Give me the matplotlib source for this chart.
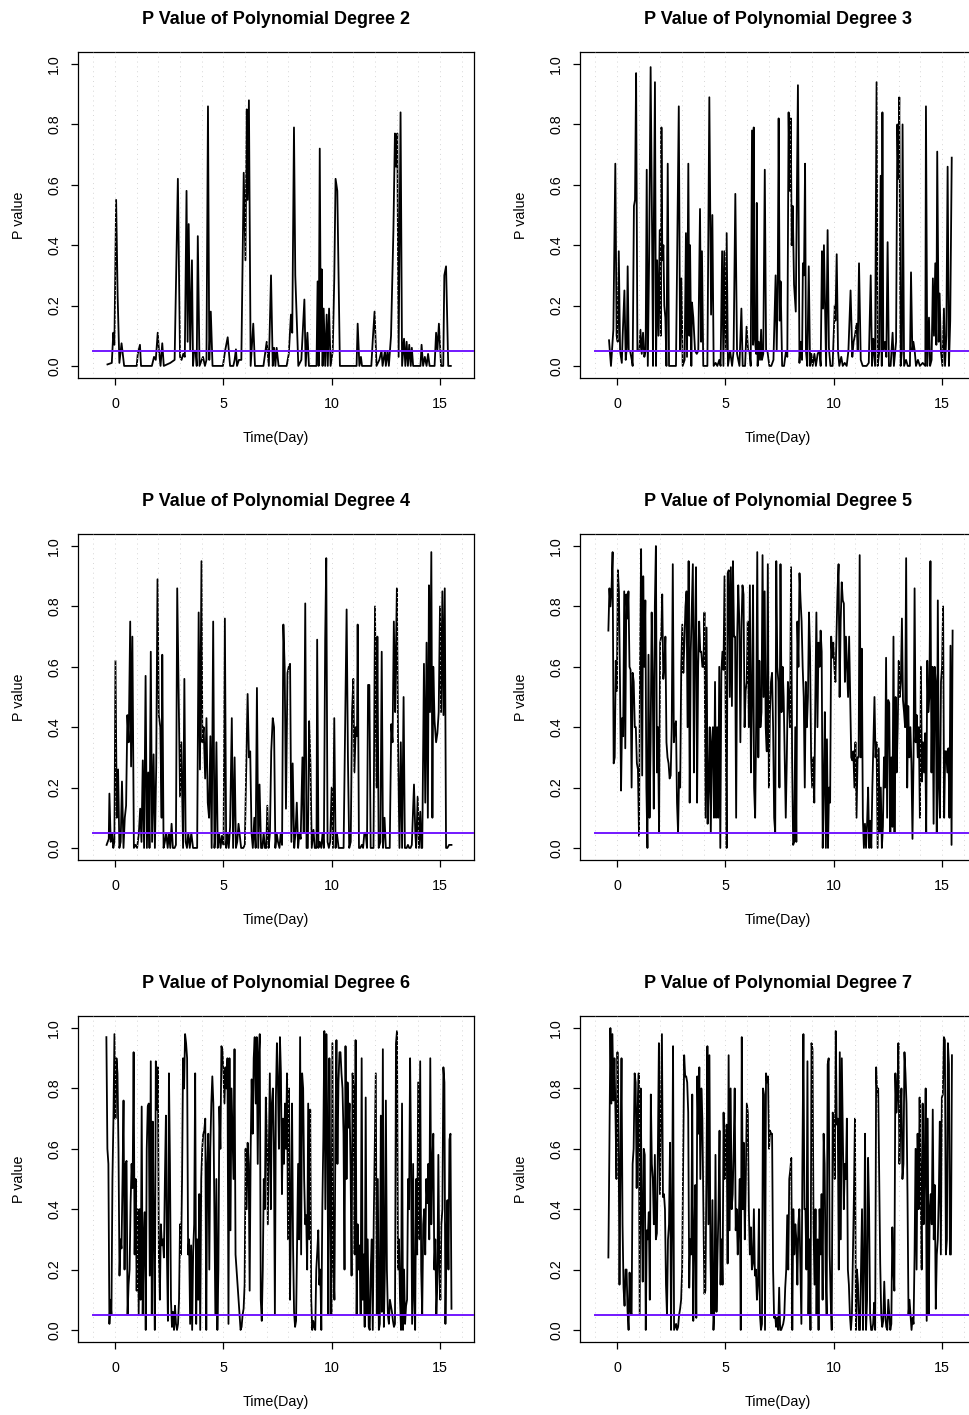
import numpy as np
import matplotlib
matplotlib.use('Agg')
import matplotlib.pyplot as plt

plt.rcParams['font.family'] = ['Liberation Sans', 'DejaVu Sans']

# degree 2 (irregular readings: day, p value)
day_deg2 = [-0.35, -0.15, -0.08, -0.03, 0.05, 0.12, 0.2, 0.3, 0.42, 1.0,
            1.05, 1.15, 1.2, 1.7, 1.8, 1.88, 1.97, 2.03, 2.1, 2.18,
            2.25, 2.55, 2.75, 2.9, 3.0, 3.07, 3.15, 3.22, 3.3, 3.35,
            3.4, 3.47, 3.55, 3.6, 3.65, 3.72, 3.77, 3.82, 3.9, 4.0,
            4.06, 4.15, 4.22, 4.29, 4.35, 4.42, 4.5, 4.98, 5.08, 5.2,
            5.31, 5.46, 5.52, 5.58, 5.63, 5.72, 5.83, 5.94, 6.02, 6.08,
            6.12, 6.18, 6.26, 6.38, 6.46, 6.85, 7.0, 7.1, 7.2, 7.28,
            7.34, 7.4, 7.46, 7.55, 7.92, 8.02, 8.12, 8.18, 8.26, 8.32,
            8.46, 8.6, 8.74, 8.8, 8.88, 8.95, 9.3, 9.35, 9.4, 9.45,
            9.5, 9.54, 9.58, 9.63, 9.7, 9.77, 9.82, 9.88, 9.95, 10.05,
            10.12, 10.18, 10.26, 10.38, 11.15, 11.2, 11.28, 11.35, 11.4, 11.83,
            11.9, 11.98, 12.07, 12.2, 12.3, 12.35, 12.46, 12.5, 12.58, 12.64,
            12.74, 12.85, 12.92, 12.97, 13.03, 13.09, 13.18, 13.25, 13.34, 13.4,
            13.46, 13.52, 13.58, 13.65, 13.7, 13.76, 14.1, 14.15, 14.22, 14.3,
            14.38, 14.45, 14.52, 14.75, 14.82, 14.88, 14.95, 15.05, 15.15, 15.2,
            15.28, 15.38, 15.5]
pval_deg2 = [0.005, 0.01, 0.11, 0.07, 0.55, 0.23, 0.01, 0.075, 0.0, 0.0,
             0.04, 0.07, 0.0, 0.0, 0.03, 0.02, 0.11, 0.05, 0.0, 0.075,
             0.0, 0.01, 0.02, 0.62, 0.03, 0.02, 0.04, 0.03, 0.58, 0.08,
             0.47, 0.05, 0.35, 0.0, 0.05, 0.05, 0.0, 0.43, 0.0, 0.02,
             0.03, 0.0, 0.02, 0.86, 0.02, 0.18, 0.0, 0.0, 0.05, 0.095,
             0.0, 0.0, 0.02, 0.055, 0.0, 0.02, 0.02, 0.64, 0.35, 0.85,
             0.55, 0.88, 0.0, 0.14, 0.0, 0.0, 0.08, 0.0, 0.3, 0.0,
             0.06, 0.0, 0.06, 0.0, 0.0, 0.04, 0.17, 0.11, 0.79, 0.3,
             0.0, 0.02, 0.22, 0.0, 0.11, 0.0, 0.0, 0.28, 0.0, 0.72,
             0.05, 0.32, 0.0, 0.19, 0.0, 0.17, 0.0, 0.19, 0.0, 0.05,
             0.29, 0.62, 0.58, 0.0, 0.0, 0.14, 0.0, 0.03, 0.0, 0.0,
             0.09, 0.18, 0.0, 0.02, 0.05, 0.0, 0.05, 0.0, 0.05, 0.0,
             0.1, 0.45, 0.77, 0.66, 0.77, 0.03, 0.84, 0.0, 0.09, 0.0,
             0.08, 0.0, 0.07, 0.0, 0.06, 0.0, 0.0, 0.07, 0.0, 0.03,
             0.0, 0.04, 0.0, 0.0, 0.11, 0.05, 0.14, 0.0, 0.0, 0.3,
             0.33, 0.0, 0.0]

# degree 3
day_deg3 = [-0.37, -0.28, -0.17, -0.08, -0.02, 0.03, 0.08, 0.14, 0.22, 0.26,
            0.34, 0.4, 0.45, 0.49, 0.54, 0.6, 0.68, 0.72, 0.78, 0.83,
            0.88, 0.94, 1.03, 1.08, 1.14, 1.2, 1.26, 1.32, 1.37, 1.42,
            1.48, 1.55, 1.62, 1.66, 1.69, 1.75, 1.8, 1.85, 1.91, 1.97,
            2.02, 2.05, 2.09, 2.14, 2.18, 2.23, 2.28, 2.34, 2.4, 2.52,
            2.6, 2.72, 2.85, 2.91, 2.97, 3.03, 3.12, 3.18, 3.23, 3.29,
            3.34, 3.37, 3.43, 3.46, 3.52, 3.6, 3.68, 3.75, 3.83, 3.88,
            3.92, 3.98, 4.08, 4.17, 4.26, 4.34, 4.4, 4.46, 4.55, 4.63,
            4.72, 4.78, 4.85, 4.91, 4.95, 5.02, 5.06, 5.12, 5.22, 5.31,
            5.38, 5.46, 5.54, 5.65, 5.74, 5.8, 5.91, 5.98, 6.05, 6.11,
            6.17, 6.23, 6.28, 6.31, 6.35, 6.42, 6.45, 6.49, 6.54, 6.6,
            6.65, 6.69, 6.75, 6.82, 6.88, 6.94, 7.03, 7.12, 7.22, 7.32,
            7.37, 7.42, 7.46, 7.51, 7.55, 7.62, 7.71, 7.8, 7.86, 7.92,
            7.97, 8.02, 8.06, 8.11, 8.17, 8.25, 8.35, 8.42, 8.48, 8.54,
            8.58, 8.63, 8.68, 8.72, 8.78, 8.85, 8.91, 8.97, 9.03, 9.11,
            9.18, 9.26, 9.34, 9.4, 9.46, 9.51, 9.55, 9.6, 9.65, 9.72,
            9.78, 9.85, 9.95, 10.05, 10.08, 10.14, 10.2, 10.26, 10.35, 10.42,
            10.51, 10.6, 10.68, 10.78, 10.86, 10.92, 10.98, 11.06, 11.11, 11.17,
            11.25, 11.34, 11.45, 11.52, 11.62, 11.71, 11.77, 11.83, 11.91, 11.98,
            12.03, 12.11, 12.17, 12.22, 12.25, 12.29, 12.37, 12.43, 12.49, 12.55,
            12.63, 12.72, 12.78, 12.88, 12.94, 12.98, 13.03, 13.09, 13.15, 13.18,
            13.25, 13.34, 13.42, 13.52, 13.57, 13.63, 13.68, 13.74, 13.8, 13.89,
            13.98, 14.11, 14.23, 14.26, 14.32, 14.4, 14.45, 14.52, 14.58, 14.63,
            14.69, 14.74, 14.78, 14.85, 14.89, 14.95, 15.02, 15.09, 15.14, 15.2,
            15.26, 15.32, 15.38, 15.45]
pval_deg3 = [0.085, 0.0, 0.12, 0.67, 0.1, 0.08, 0.38, 0.05, 0.01, 0.1,
             0.25, 0.02, 0.06, 0.33, 0.05, 0.05, 0.02, 0.0, 0.53, 0.55,
             0.97, 0.05, 0.05, 0.12, 0.04, 0.11, 0.03, 0.05, 0.65, 0.0,
             0.35, 0.99, 0.42, 0.0, 0.4, 0.94, 0.0, 0.35, 0.1, 0.45,
             0.1, 0.79, 0.35, 0.4, 0.2, 0.16, 0.0, 0.67, 0.0, 0.0,
             0.0, 0.0, 0.86, 0.05, 0.29, 0.0, 0.02, 0.44, 0.03, 0.67,
             0.1, 0.4, 0.0, 0.21, 0.16, 0.05, 0.04, 0.05, 0.52, 0.08,
             0.38, 0.0, 0.0, 0.0, 0.89, 0.17, 0.5, 0.0, 0.01, 0.0,
             0.02, 0.0, 0.38, 0.0, 0.38, 0.05, 0.44, 0.0, 0.05, 0.0,
             0.05, 0.57, 0.04, 0.0, 0.19, 0.0, 0.0, 0.13, 0.05, 0.05,
             0.0, 0.78, 0.07, 0.79, 0.1, 0.04, 0.54, 0.0, 0.08, 0.02,
             0.12, 0.02, 0.04, 0.65, 0.05, 0.05, 0.0, 0.0, 0.02, 0.3,
             0.05, 0.29, 0.82, 0.15, 0.28, 0.0, 0.0, 0.05, 0.03, 0.84,
             0.58, 0.82, 0.4, 0.53, 0.27, 0.18, 0.93, 0.01, 0.08, 0.02,
             0.34, 0.3, 0.67, 0.05, 0.0, 0.33, 0.0, 0.04, 0.0, 0.04,
             0.0, 0.04, 0.05, 0.0, 0.38, 0.19, 0.4, 0.2, 0.0, 0.45,
             0.06, 0.0, 0.0, 0.2, 0.15, 0.37, 0.05, 0.0, 0.03, 0.0,
             0.01, 0.0, 0.05, 0.25, 0.03, 0.08, 0.1, 0.14, 0.05, 0.34,
             0.02, 0.0, 0.0, 0.0, 0.01, 0.3, 0.0, 0.09, 0.0, 0.94,
             0.0, 0.05, 0.63, 0.0, 0.84, 0.05, 0.08, 0.03, 0.41, 0.0,
             0.0, 0.11, 0.0, 0.08, 0.8, 0.62, 0.89, 0.0, 0.05, 0.8,
             0.0, 0.02, 0.0, 0.0, 0.31, 0.05, 0.08, 0.05, 0.0, 0.02,
             0.0, 0.01, 0.0, 0.86, 0.0, 0.16, 0.0, 0.02, 0.29, 0.1,
             0.34, 0.07, 0.71, 0.08, 0.24, 0.05, 0.0, 0.19, 0.0, 0.1,
             0.66, 0.0, 0.15, 0.69]

# degree 4
day_deg4 = [-0.39, -0.29, -0.26, -0.2, -0.14, -0.08, -0.03, 0.02, 0.08, 0.14,
            0.2, 0.26, 0.32, 0.39, 0.45, 0.51, 0.57, 0.63, 0.7, 0.74,
            0.8, 0.87, 0.94, 1.02, 1.1, 1.16, 1.22, 1.28, 1.34, 1.41,
            1.47, 1.53, 1.59, 1.65, 1.71, 1.78, 1.84, 1.9, 1.96, 2.02,
            2.09, 2.15, 2.18, 2.24, 2.3, 2.36, 2.43, 2.49, 2.55, 2.61,
            2.67, 2.75, 2.81, 2.87, 2.94, 3.0, 3.06, 3.14, 3.2, 3.26,
            3.32, 3.38, 3.45, 3.52, 3.6, 3.66, 3.72, 3.79, 3.86, 3.92,
            3.99, 4.03, 4.09, 4.16, 4.22, 4.28, 4.34, 4.4, 4.46, 4.53,
            4.59, 4.62, 4.68, 4.74, 4.8, 4.87, 4.93, 5.01, 5.07, 5.13,
            5.19, 5.25, 5.31, 5.39, 5.45, 5.52, 5.58, 5.64, 5.7, 5.76,
            5.82, 5.92, 5.99, 6.12, 6.18, 6.24, 6.3, 6.36, 6.43, 6.49,
            6.55, 6.61, 6.67, 6.74, 6.8, 6.86, 6.92, 6.98, 7.03, 7.09,
            7.15, 7.21, 7.28, 7.34, 7.4, 7.46, 7.52, 7.59, 7.65, 7.71,
            7.77, 7.83, 7.89, 7.96, 8.02, 8.08, 8.14, 8.2, 8.27, 8.33,
            8.39, 8.45, 8.51, 8.57, 8.65, 8.71, 8.78, 8.84, 8.9, 8.96,
            9.02, 9.08, 9.16, 9.22, 9.3, 9.33, 9.39, 9.45, 9.52, 9.58,
            9.64, 9.7, 9.75, 9.81, 9.87, 9.93, 10.0, 10.06, 10.12, 10.18,
            10.24, 10.32, 10.4, 10.47, 10.55, 10.69, 10.75, 10.81, 10.88, 10.94,
            11.0, 11.05, 11.11, 11.17, 11.2, 11.26, 11.32, 11.39, 11.45, 11.51,
            11.57, 11.63, 11.68, 11.74, 11.8, 11.86, 11.93, 12.0, 12.07, 12.11,
            12.17, 12.25, 12.31, 12.37, 12.44, 12.5, 12.56, 12.64, 12.68, 12.75,
            12.81, 12.87, 12.93, 12.96, 13.01, 13.07, 13.13, 13.19, 13.25, 13.32,
            13.38, 13.46, 13.52, 13.58, 13.64, 13.7, 13.8, 13.86, 13.9, 13.97,
            14.03, 14.09, 14.14, 14.18, 14.26, 14.32, 14.38, 14.44, 14.49, 14.54,
            14.6, 14.65, 14.69, 14.75, 14.82, 14.88, 14.94, 15.0, 15.05, 15.11,
            15.16, 15.22, 15.28, 15.34, 15.42, 15.53]
pval_deg4 = [0.01, 0.03, 0.18, 0.02, 0.05, 0.0, 0.02, 0.62, 0.1, 0.26,
             0.0, 0.02, 0.22, 0.0, 0.1, 0.14, 0.44, 0.35, 0.75, 0.27,
             0.7, 0.0, 0.01, 0.0, 0.05, 0.13, 0.02, 0.29, 0.0, 0.57,
             0.0, 0.25, 0.0, 0.65, 0.02, 0.31, 0.0, 0.27, 0.89, 0.44,
             0.4, 0.1, 0.64, 0.0, 0.02, 0.05, 0.0, 0.05, 0.0, 0.08,
             0.0, 0.0, 0.01, 0.86, 0.5, 0.17, 0.35, 0.0, 0.56, 0.02,
             0.0, 0.05, 0.0, 0.05, 0.0, 0.0, 0.0, 0.0, 0.78, 0.26,
             0.95, 0.35, 0.4, 0.23, 0.43, 0.15, 0.1, 0.37, 0.0, 0.75,
             0.0, 0.03, 0.35, 0.0, 0.05, 0.0, 0.04, 0.01, 0.76, 0.0,
             0.05, 0.0, 0.07, 0.43, 0.0, 0.3, 0.0, 0.02, 0.08, 0.04,
             0.0, 0.0, 0.01, 0.51, 0.3, 0.32, 0.05, 0.0, 0.1, 0.0,
             0.53, 0.0, 0.21, 0.0, 0.0, 0.05, 0.0, 0.0, 0.14, 0.0,
             0.05, 0.32, 0.43, 0.4, 0.0, 0.05, 0.02, 0.0, 0.05, 0.01,
             0.74, 0.6, 0.13, 0.58, 0.6, 0.61, 0.02, 0.28, 0.0, 0.05,
             0.15, 0.0, 0.05, 0.03, 0.3, 0.05, 0.81, 0.0, 0.0, 0.42,
             0.28, 0.0, 0.06, 0.0, 0.0, 0.69, 0.0, 0.02, 0.0, 0.05,
             0.0, 0.69, 0.96, 0.02, 0.0, 0.02, 0.2, 0.0, 0.43, 0.0,
             0.05, 0.0, 0.0, 0.0, 0.0, 0.79, 0.3, 0.0, 0.02, 0.45,
             0.56, 0.25, 0.4, 0.37, 0.74, 0.0, 0.0, 0.01, 0.0, 0.05,
             0.05, 0.0, 0.54, 0.54, 0.0, 0.0, 0.0, 0.8, 0.2, 0.7,
             0.0, 0.02, 0.65, 0.0, 0.1, 0.0, 0.0, 0.0, 0.0, 0.41,
             0.35, 0.75, 0.45, 0.62, 0.86, 0.3, 0.0, 0.35, 0.0, 0.5,
             0.0, 0.0, 0.01, 0.0, 0.0, 0.01, 0.21, 0.05, 0.0, 0.17,
             0.0, 0.12, 0.0, 0.0, 0.61, 0.15, 0.68, 0.1, 0.87, 0.45,
             0.98, 0.1, 0.6, 0.42, 0.35, 0.38, 0.45, 0.8, 0.45, 0.85,
             0.44, 0.86, 0.0, 0.0, 0.01, 0.01]

# degrees 5-7 are read at even steps between the first and last reading
first_deg5, last_deg5 = -0.4, 15.49
pval_deg5 = [0.72, 0.86, 0.8, 0.86, 0.98, 0.28, 0.3, 0.62, 0.52, 0.92,
             0.85, 0.55, 0.19, 0.43, 0.37, 0.85, 0.33, 0.84, 0.76, 0.85,
             0.6, 0.59, 0.2, 0.58, 0.55, 0.4, 0.4, 0.28, 0.26, 0.04,
             0.6, 0.99, 0.24, 0.9, 0.6, 0.82, 0.2, 0.0, 0.64, 0.1,
             0.35, 0.78, 0.55, 0.13, 0.8, 1.0, 0.25, 0.4, 0.05, 0.68,
             0.7, 0.84, 0.56, 0.6, 0.7, 0.35, 0.3, 0.28, 0.23, 0.24,
             0.4, 0.94, 0.35, 0.4, 0.42, 0.15, 0.05, 0.25, 0.2, 0.6,
             0.74, 0.58, 0.68, 0.8, 0.85, 0.4, 0.95, 0.15, 0.65, 0.8,
             0.94, 0.25, 0.7, 0.93, 0.15, 0.6, 0.75, 0.65, 0.65, 0.6,
             0.6, 0.78, 0.1, 0.73, 0.08, 0.2, 0.4, 0.05, 0.35, 0.4,
             0.1, 0.55, 0.1, 0.4, 0.1, 0.6, 0.0, 0.58, 0.65, 0.59,
             0.9, 0.48, 0.0, 0.91, 0.92, 0.5, 0.93, 0.47, 0.95, 0.7,
             0.7, 0.1, 0.7, 0.87, 0.75, 0.35, 0.72, 0.87, 0.84, 0.4,
             0.52, 0.55, 0.75, 0.4, 0.87, 0.25, 0.5, 0.87, 0.2, 0.1,
             0.42, 0.98, 0.3, 0.62, 0.4, 0.45, 0.97, 0.5, 0.85, 0.4,
             0.32, 0.94, 0.2, 0.45, 0.55, 0.58, 0.4, 0.1, 0.05, 0.95,
             0.6, 0.55, 0.2, 0.94, 0.45, 0.6, 0.5, 0.3, 0.1, 0.3,
             0.55, 0.5, 0.4, 0.93, 0.3, 0.01, 0.02, 0.4, 0.02, 0.75,
             0.6, 0.91, 0.82, 0.75, 0.6, 0.5, 0.2, 0.55, 0.4, 0.5,
             0.78, 0.65, 0.3, 0.2, 0.3, 0.15, 0.5, 0.78, 0.4, 0.68,
             0.6, 0.72, 0.65, 0.0, 0.2, 0.45, 0.0, 0.36, 0.0, 0.2,
             0.15, 0.7, 0.63, 0.68, 0.6, 0.55, 0.7, 0.85, 0.94, 0.5,
             0.75, 0.88, 0.82, 0.81, 0.55, 0.7, 0.6, 0.5, 0.7, 0.5,
             0.3, 0.29, 0.32, 0.2, 0.35, 0.1, 0.3, 0.3, 0.97, 0.3,
             0.66, 0.1, 0.0, 0.08, 0.0, 0.08, 0.2, 0.0, 0.09, 0.0,
             0.2, 0.35, 0.5, 0.3, 0.35, 0.0, 0.33, 0.05, 0.2, 0.0,
             0.07, 0.3, 0.2, 0.63, 0.1, 0.49, 0.48, 0.05, 0.3, 0.07,
             0.7, 0.05, 0.5, 0.25, 0.4, 0.62, 0.5, 0.55, 0.76, 0.49,
             0.45, 0.4, 0.96, 0.2, 0.47, 0.3, 0.4, 0.28, 0.03, 0.3,
             0.86, 0.35, 0.44, 0.3, 0.4, 0.1, 0.6, 0.22, 0.35, 0.25,
             0.38, 0.05, 0.62, 0.45, 0.5, 0.95, 0.25, 0.6, 0.08, 0.6,
             0.55, 0.05, 0.82, 0.2, 0.1, 0.55, 0.6, 0.8, 0.1, 0.32,
             0.32, 0.25, 0.33, 0.1, 0.67, 0.01, 0.72]

first_deg6, last_deg6 = -0.4, 15.53
pval_deg6 = [0.97, 0.6, 0.55, 0.02, 0.1, 0.05, 0.5, 0.7, 0.98, 0.7,
             0.9, 0.85, 0.6, 0.18, 0.3, 0.27, 0.5, 0.76, 0.2, 0.55,
             0.56, 0.05, 0.15, 0.2, 0.42, 0.55, 0.47, 0.92, 0.25, 0.5,
             0.13, 0.4, 0.05, 0.4, 0.1, 0.74, 0.05, 0.3, 0.39, 0.0,
             0.6, 0.74, 0.75, 0.18, 0.89, 0.05, 0.69, 0.3, 0.0, 0.89,
             0.73, 0.87, 0.25, 0.1, 0.35, 0.28, 0.3, 0.24, 0.5, 0.71,
             0.25, 0.03, 0.85, 0.55, 0.1, 0.01, 0.06, 0.0, 0.08, 0.02,
             0.0, 0.02, 0.1, 0.35, 0.25, 0.5, 0.9, 0.8, 0.98, 0.95,
             0.9, 0.25, 0.3, 0.02, 0.28, 0.0, 0.26, 0.35, 0.85, 0.02,
             0.3, 0.1, 0.45, 0.0, 0.5, 0.6, 0.65, 0.66, 0.7, 0.0,
             0.55, 0.65, 0.2, 0.6, 0.75, 0.84, 0.75, 0.41, 0.05, 0.5,
             0.0, 0.2, 0.74, 0.6, 0.94, 0.93, 0.85, 0.75, 0.87, 0.8,
             0.9, 0.02, 0.9, 0.33, 0.8, 0.65, 0.5, 0.93, 0.25, 0.2,
             0.15, 0.1, 0.05, 0.0, 0.01, 0.05, 0.07, 0.15, 0.6, 0.4,
             0.62, 0.55, 0.13, 0.6, 0.83, 0.65, 0.9, 0.97, 0.75, 0.97,
             0.55, 0.9, 0.98, 0.1, 0.03, 0.2, 0.5, 0.4, 0.77, 0.65,
             0.35, 0.6, 0.85, 0.4, 0.75, 0.8, 0.62, 0.05, 0.77, 0.95,
             0.82, 0.6, 0.97, 0.85, 0.45, 0.7, 0.55, 0.75, 0.6, 0.85,
             0.3, 0.8, 0.1, 0.4, 0.75, 0.28, 0.06, 0.01, 0.03, 0.3,
             0.55, 0.3, 0.97, 0.25, 0.85, 0.8, 0.5, 0.35, 0.38, 0.2,
             0.75, 0.3, 0.73, 0.1, 0.0, 0.03, 0.01, 0.0, 0.2, 0.26,
             0.33, 0.15, 0.2, 0.0, 0.4, 0.63, 0.99, 0.4, 0.98, 0.65,
             0.05, 0.9, 0.4, 0.05, 0.95, 0.2, 0.1, 0.65, 0.96, 0.55,
             0.82, 0.92, 0.92, 0.85, 0.8, 0.65, 0.2, 0.94, 0.5, 0.82,
             0.67, 0.75, 0.54, 0.18, 0.85, 0.8, 0.25, 0.96, 0.05, 0.35,
             0.2, 0.28, 0.05, 0.9, 0.1, 0.25, 0.01, 0.77, 0.05, 0.3,
             0.01, 0.0, 0.2, 0.3, 0.0, 0.37, 0.6, 0.85, 0.05, 0.5,
             0.0, 0.02, 0.71, 0.06, 0.93, 0.01, 0.2, 0.76, 0.2, 0.05,
             0.02, 0.1, 0.08, 0.06, 0.03, 0.01, 0.02, 0.95, 0.99, 0.2,
             0.3, 0.1, 0.0, 0.75, 0.0, 0.2, 0.02, 0.08, 0.1, 0.5,
             0.4, 0.9, 0.55, 0.02, 0.55, 0.1, 0.0, 0.5, 0.25, 0.82,
             0.3, 0.89, 0.2, 0.05, 0.35, 0.4, 0.25, 0.5, 0.42, 0.55,
             0.3, 0.9, 0.35, 0.55, 0.65, 0.2, 0.3, 0.05, 0.15, 0.58,
             0.2, 0.1, 0.35, 0.4, 0.87, 0.82, 0.02, 0.3, 0.43, 0.2,
             0.63, 0.65, 0.07]

first_deg7, last_deg7 = -0.4, 15.46
pval_deg7 = [0.24, 0.6, 1.0, 0.75, 0.98, 0.76, 0.9, 0.72, 0.5, 0.92,
             0.7, 0.15, 0.55, 0.9, 0.35, 0.14, 0.08, 0.2, 0.2, 0.06,
             0.0, 0.19, 0.06, 0.05, 0.55, 0.6, 0.85, 0.82, 0.47, 0.73,
             0.85, 0.05, 0.8, 0.4, 0.16, 0.6, 0.58, 0.0, 0.33, 0.3,
             0.39, 0.1, 0.78, 0.55, 0.5, 0.35, 0.58, 0.3, 0.32, 0.6,
             0.95, 0.45, 0.72, 0.98, 0.44, 0.45, 0.4, 0.15, 0.05, 0.3,
             0.35, 0.62, 0.0, 0.35, 0.94, 0.0, 0.01, 0.02, 0.0, 0.01,
             0.05, 0.07, 0.1, 0.2, 0.55, 0.91, 0.84, 0.84, 0.82, 0.72,
             0.14, 0.3, 0.25, 0.78, 0.03, 0.3, 0.48, 0.04, 0.84, 0.65,
             0.87, 0.5, 0.8, 0.7, 0.4, 0.12, 0.13, 0.5, 0.94, 0.35,
             0.91, 0.25, 0.05, 0.43, 0.0, 0.08, 0.58, 0.06, 0.25, 0.4,
             0.66, 0.15, 0.3, 0.15, 0.72, 0.5, 0.6, 0.68, 0.22, 0.91,
             0.33, 0.8, 0.4, 0.45, 0.6, 0.8, 0.33, 0.4, 0.25, 0.35,
             0.5, 0.0, 0.97, 0.4, 0.62, 0.3, 0.5, 0.75, 0.72, 0.4,
             0.25, 0.34, 0.2, 0.22, 0.4, 0.18, 0.2, 0.1, 0.15, 0.4,
             0.05, 0.0, 0.02, 0.8, 0.78, 0.0, 0.85, 0.82, 0.84, 0.6,
             0.66, 0.65, 0.65, 0.2, 0.04, 0.05, 0.01, 0.04, 0.0, 0.14,
             0.0, 0.0, 0.01, 0.02, 0.04, 0.14, 0.2, 0.38, 0.2, 0.5,
             0.53, 0.57, 0.0, 0.4, 0.25, 0.35, 0.3, 0.15, 0.35, 0.4,
             0.21, 0.02, 0.55, 0.98, 0.4, 0.4, 0.2, 0.89, 0.05, 0.3,
             0.0, 0.95, 0.93, 0.35, 0.15, 0.4, 0.05, 0.3, 0.0, 0.4,
             0.25, 0.45, 0.1, 0.65, 0.55, 0.2, 0.05, 0.88, 0.9, 0.25,
             0.1, 0.0, 0.72, 0.69, 0.5, 0.99, 0.68, 0.7, 0.2, 0.92,
             0.3, 0.9, 0.65, 0.4, 0.55, 0.5, 0.7, 0.2, 0.15, 0.05,
             0.0, 0.05, 0.25, 0.45, 0.7, 0.0, 0.2, 0.15, 0.0, 0.0,
             0.2, 0.4, 0.0, 0.21, 0.65, 0.0, 0.1, 0.57, 0.4, 0.05,
             0.0, 0.0, 0.02, 0.09, 0.0, 0.87, 0.78, 0.8, 0.5, 0.22,
             0.05, 0.01, 0.03, 0.16, 0.05, 0.01, 0.0, 0.1, 0.05, 0.0,
             0.02, 0.34, 0.2, 0.13, 0.85, 0.72, 0.78, 0.95, 0.55, 0.7,
             0.8, 0.5, 0.55, 0.92, 0.85, 0.75, 0.45, 0.05, 0.1, 0.05,
             0.0, 0.04, 0.02, 0.25, 0.6, 0.2, 0.65, 0.4, 0.77, 0.5,
             0.2, 0.75, 0.35, 0.55, 0.8, 0.03, 0.7, 0.05, 0.4, 0.45,
             0.35, 0.73, 0.3, 0.48, 0.07, 0.25, 0.3, 0.45, 0.69, 0.25,
             0.77, 0.78, 0.97, 0.96, 0.25, 0.3, 0.95, 0.88, 0.25, 0.25,
             0.91]

degrees = [2, 3, 4, 5, 6, 7]
grid_days = list(range(-1, 17))
threshold = 0.05
x_ticks = [0, 5, 10, 15]
y_ticks = [0.0, 0.2, 0.4, 0.6, 0.8, 1.0]

series = [
    (day_deg2, pval_deg2),
    (day_deg3, pval_deg3),
    (day_deg4, pval_deg4),
    (np.linspace(first_deg5, last_deg5, len(pval_deg5)), pval_deg5),
    (np.linspace(first_deg6, last_deg6, len(pval_deg6)), pval_deg6),
    (np.linspace(first_deg7, last_deg7, len(pval_deg7)), pval_deg7),
]

W, H = 969, 1415
fig = plt.figure(figsize=(W / 100, H / 100), dpi=100)

# panel boxes in pixels (right column runs past the image edge, as in the original)
col_left = [78, 580]
row_top = [52, 534, 1016]
pw, ph = 396, 326

for i, deg in enumerate(degrees):
    r, c = divmod(i, 2)
    ax = fig.add_axes([col_left[c] / W, 1 - (row_top[r] + ph) / H, pw / W, ph / H])
    t, p = series[i]
    ax.plot(t, p, color='black', lw=1.3, zorder=2)
    for g in grid_days:
        ax.axvline(g, color='#d6d6d6', lw=0.7, ls=(0, (1, 4)), zorder=3)
    ax.plot([-1, 17], [threshold, threshold], color='#7318ff', lw=1.4, zorder=4)

    ax.set_xlim(-1.71, 16.57)
    ax.set_ylim(-0.04, 1.04)
    ax.set_xticks(x_ticks)
    ax.set_xticklabels([str(v) for v in x_ticks])
    ax.set_yticks(y_ticks)
    ax.set_yticklabels(['%.1f' % v for v in y_ticks], rotation=90, va='center')
    ax.tick_params(length=5, width=0.9, labelsize=10.3, color='black')
    ax.tick_params(axis='x', pad=9)
    ax.tick_params(axis='y', pad=7)
    for s in ax.spines.values():
        s.set_linewidth(0.9)

    ax.text(0.5, 1 + 32 / ph, 'P Value of Polynomial Degree %d' % deg,
            transform=ax.transAxes, ha='center', va='center',
            fontsize=13, fontweight='bold')
    ax.text(0.5, -60 / ph, 'Time(Day)', transform=ax.transAxes,
            ha='center', va='center', fontsize=10.3)
    ax.text(-59 / pw, 0.5, 'P value', transform=ax.transAxes,
            ha='center', va='center', rotation=90, fontsize=10.3)

fig.savefig('out.png', dpi=100)
